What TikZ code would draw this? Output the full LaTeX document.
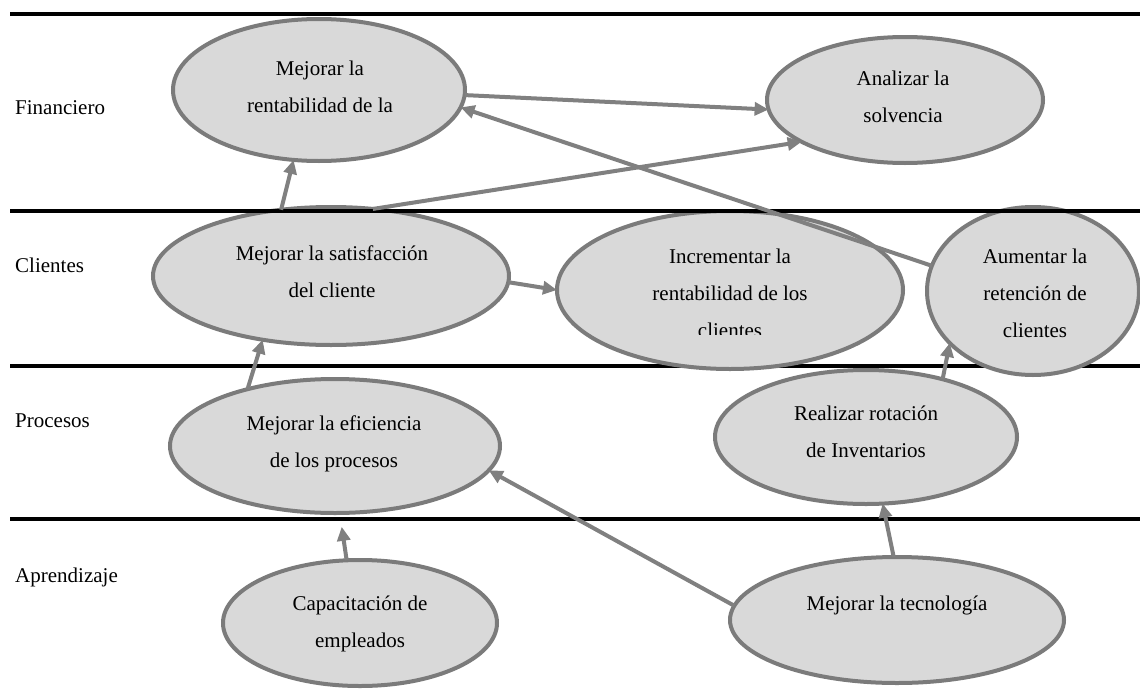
\documentclass[tikz,border=0pt]{standalone}
\usepackage{fontspec}
\setmainfont{Liberation Serif}
\usetikzlibrary{shapes.geometric,arrows.meta}
\definecolor{ovalline}{HTML}{7B7B7B}
\definecolor{ovalfill}{HTML}{D9D9D9}
\definecolor{arrowgray}{HTML}{808080}
\begin{document}
\begin{tikzpicture}[x=1pt,y=-1pt,
  oval/.style={ellipse,draw=ovalline,fill=ovalfill,line width=4pt,inner sep=0pt,outer sep=0pt},
  lbl/.style={font=\fontsize{21}{37}\selectfont,align=center,inner sep=0pt,text=black},
  side/.style={font=\fontsize{21}{25}\selectfont,anchor=west,inner sep=0pt,text=black},
  band/.style={line width=3.5pt,draw=black},
  link/.style={draw=arrowgray,line width=4pt,-{Triangle[length=14pt,width=13pt]}},
]
\fill[white] (0,0) rectangle (1140,688);
\useasboundingbox (0,0) rectangle (1140,688);

% lane separators (lower ones under the ovals)
\draw[band] (10,14) -- (1142,14);
\draw[band] (10,366) -- (1142,366);
\draw[band] (10,519) -- (1142,519);

% lane labels
\node[side] (lfin) at (15,108) {Financiero};
\node[side] (lcli) at (15,265) {Clientes};
\node[side] (lpro) at (15,421) {Procesos};
\node[side] (lapr) at (15,577) {Aprendizaje};

% ovals
\node[oval,minimum width=292pt,minimum height=142pt] (fin1) at (319,90) {};
\node[oval,minimum width=276pt,minimum height=126pt] (fin2) at (905,100) {};
\node[oval,minimum width=356pt,minimum height=138pt] (cli1) at (331,276) {};
\node[oval,minimum width=346pt,minimum height=158pt] (cli2) at (730,290) {};
\node[oval,minimum width=212pt,minimum height=168pt] (cli3) at (1033,291) {};
\node[oval,minimum width=330pt,minimum height=134pt] (pro1) at (335,446) {};
\node[oval,minimum width=302pt,minimum height=134pt] (pro2) at (866,437) {};
\node[oval,minimum width=274pt,minimum height=126pt] (apr1) at (360,623) {};
\node[oval,minimum width=334pt,minimum height=126pt] (apr2) at (897,620) {};

% separator drawn over the ovals
\draw[band] (10,211) -- (1142,211);

% oval texts
\node[lbl] (fin1t) at (320,86.5) {Mejorar la\\rentabilidad de la};
\node[lbl] (fin2t) at (903,96.5) {Analizar la\\solvencia};
\node[lbl] (cli1t) at (332,271.5) {Mejorar la satisfacción\\del cliente};
\begin{scope}
  \clip (540,200) rectangle (920,334);
  \node[lbl] (cli2t) at (730,293) {Incrementar la\\rentabilidad de los\\clientes};
\end{scope}
\node[lbl] (cli3t) at (1035,293) {Aumentar la\\retención de\\clientes};
\node[lbl] (pro1t) at (334,443.5) {Mejorar la eficiencia\\de los procesos};
\node[lbl] (pro2t) at (866,431.5) {Realizar rotación\\de Inventarios};
\node[lbl] (apr1t) at (360,623.5) {Capacitación de\\empleados};
\node[lbl] (apr2t) at (897,605) {Mejorar la tecnología};

% connectors
\draw[link] (fin1.-2.7) -- (fin2.-176.7);
\draw[link] (cli1.58.6) -- (fin2.202.7);
\draw[link] (cli3.166.2) -- (fin1.-7.6);
\draw[link] (cli1.127.9) -- (fin1.250.9);
\draw[link] (cli1.-2.8) -- (cli2.180);
\draw[link] (pro1.147.3) -- (cli1.223.3);
\draw[link] (pro2.37.8) -- (cli3.212.8);
\draw[link] (apr2.93.8) -- (pro2.-76.3);
\draw[link] (apr2.175.8) -- (pro1.-9.2);
\draw[link,shorten >=14pt] (apr1.102.8) -- (pro1.-86.5);
\end{tikzpicture}
\end{document}
